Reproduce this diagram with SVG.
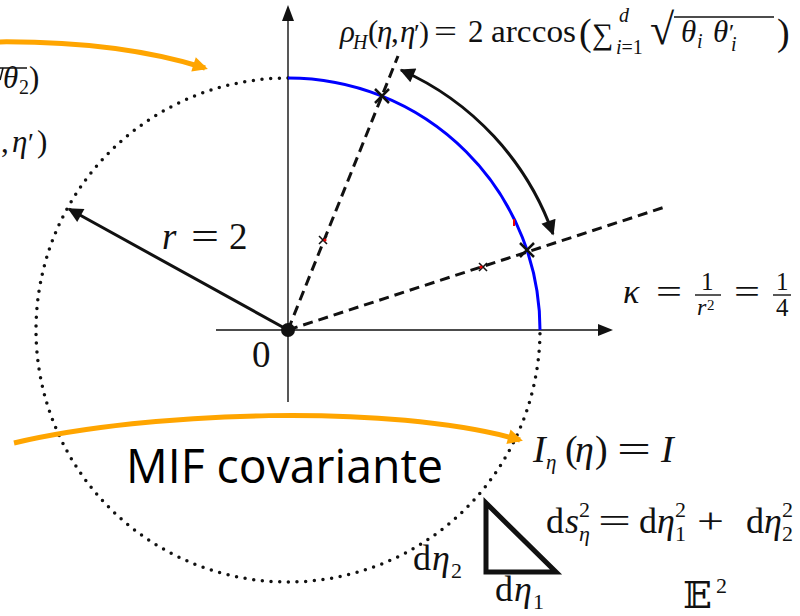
<svg xmlns="http://www.w3.org/2000/svg" width="800" height="616" viewBox="0 0 800 616">
<style>
.m{font-family:"Liberation Serif","DejaVu Serif",serif;font-size:31px;fill:#111}
.i{font-style:italic}
.s{font-size:20px}
.ax{stroke:#111;stroke-width:1.4;fill:none}
.dash{stroke:#111;stroke-width:3;stroke-dasharray:10 6;fill:none}
.xm{stroke:#111;stroke-width:2.5}
.or{stroke:#FFA500;stroke-width:5;fill:none}
</style>
<defs>
<marker id="ah" viewBox="0 0 10 10" refX="9" refY="5" markerWidth="6" markerHeight="5" orient="auto-start-reverse" markerUnits="strokeWidth"><path d="M0,0 L10,5 L0,10 z" fill="#111"/></marker>
<marker id="oh" viewBox="0 0 10 10" refX="8" refY="5" markerWidth="4.4" markerHeight="3" orient="auto" markerUnits="strokeWidth"><path d="M0,0 L10,5 L0,10 z" fill="#FFA500"/></marker>
</defs>
<rect width="800" height="616" fill="#fff"/>

<g id="connectors">
<line class="ax" x1="216" y1="330" x2="598" y2="330"/>
<path d="M598,324 L613,330 L598,336 z" fill="#111"/>
<line class="ax" x1="288" y1="402" x2="288" y2="20"/>
<path d="M282,21 L288,5 L294,21 z" fill="#111"/>
<path d="M288,78 A252,252 0 1 0 540,330" fill="none" stroke="#111" stroke-width="3.5" stroke-linecap="round" stroke-dasharray="0 8.7"/>
<path d="M288,78 A252,252 0 0 1 540,330" fill="none" stroke="#0000FF" stroke-width="3"/>
<line class="dash" x1="288" y1="330" x2="398" y2="56"/>
<line class="dash" x1="288" y1="330" x2="665" y2="207"/>
<line x1="288" y1="330" x2="69" y2="209" stroke="#111" stroke-width="3" marker-end="url(#ah)"/>
<path d="M401,70 A283,283 0 0 1 553,234" fill="none" stroke="#111" stroke-width="3" marker-start="url(#ah)" marker-end="url(#ah)"/>
<path class="or" d="M-10,42 Q115,40 205,68" marker-end="url(#oh)"/>
<path class="or" d="M14,443 C150,411 390,403 520,440" marker-end="url(#oh)"/>
</g>

<g id="origin"><circle cx="288" cy="330" r="7" fill="#111"/></g>
<g id="marks">
<path class="xm" d="M375,89 L389,103 M389,89 L375,103"/>
<path class="xm" d="M520,243 L534,257 M534,243 L520,257"/>
<path d="M319,236 L327,244 M327,236 L319,244" stroke="#111" stroke-width="1.6"/>
<circle cx="325" cy="240" r="1.6" fill="#e00"/>
<path d="M479,263 L487,271 M487,263 L479,271" stroke="#111" stroke-width="1.6"/>
<circle cx="481" cy="267" r="1.6" fill="#e00"/>
<rect x="513" y="219" width="2" height="7" fill="#e00"/>
</g>
<g id="triangle"><path d="M486,503 L486,572 L556,572 z" fill="none" stroke="#111" stroke-width="5" stroke-linejoin="miter"/></g>

<g id="rho-label" class="m">
<text><tspan x="340" y="42" class="i">ρ</tspan><tspan x="353" y="49" class="i s">H</tspan><tspan x="368" y="42">(</tspan><tspan x="377" y="42" class="i">η</tspan><tspan x="391" y="42">,</tspan><tspan x="400" y="42" class="i">η</tspan><tspan x="414" y="42" style="font-size:26px">′</tspan><tspan x="419" y="42" style="font-size:30px">)</tspan></text>
<text x="434" y="42" textLength="23" lengthAdjust="spacingAndGlyphs">=</text>
<text x="468" y="42">2</text>
<text x="491" y="42" textLength="85" lengthAdjust="spacingAndGlyphs">arccos</text>
<text><tspan x="579" y="45" style="font-size:38px">(</tspan><tspan x="592" y="44" style="font-size:30px">∑</tspan><tspan x="619" y="22" class="i s">d</tspan><tspan x="616" y="54" class="s"><tspan class="i">i</tspan>=1</tspan><tspan x="650" y="44" style="font-size:44px">√</tspan><tspan x="681" y="42" class="i">θ</tspan><tspan x="697" y="48" class="i s">i</tspan><tspan x="713" y="42" class="i">θ</tspan><tspan x="729" y="40" style="font-size:24px">′</tspan><tspan x="731" y="51" class="i s">i</tspan><tspan x="777" y="45" style="font-size:38px">)</tspan></text>
<line x1="674" y1="17" x2="774" y2="17" stroke="#111" stroke-width="1.5"/>
</g>

<g id="left-clip" class="m">
<line x1="0" y1="68" x2="27" y2="68" stroke="#111" stroke-width="1.5"/>
<line x1="0" y1="80" x2="3" y2="68" stroke="#111" stroke-width="1.5"/>
<text><tspan x="3" y="88" class="i">θ</tspan><tspan x="19" y="94" class="s">2</tspan><tspan x="29" y="88">)</tspan></text>
<text><tspan x="1" y="152">,</tspan><tspan x="12" y="152" class="i">η</tspan><tspan x="28" y="152" style="font-size:27px">′</tspan><tspan x="37" y="152">)</tspan></text>
</g>

<g id="r-label" class="m" style="font-size:37px">
<text x="162" y="249" class="i">r</text>
<text x="191" y="249" textLength="28" lengthAdjust="spacingAndGlyphs">=</text>
<text x="229" y="249">2</text>
</g>
<g id="zero-label" class="m" style="font-size:37px"><text x="252" y="367">0</text></g>

<g id="kappa-label" class="m" style="font-size:34px">
<text x="623" y="303" class="i">κ</text>
<text x="656" y="303" textLength="26" lengthAdjust="spacingAndGlyphs">=</text>
<text x="701" y="290" style="font-size:25px">1</text>
<line x1="695" y1="295" x2="721" y2="295" stroke="#111" stroke-width="1.4"/>
<text><tspan x="697" y="315" class="i" style="font-size:24px">r</tspan><tspan x="707" y="310" style="font-size:15px">2</tspan></text>
<text x="734" y="303" textLength="26" lengthAdjust="spacingAndGlyphs">=</text>
<text x="776" y="290" style="font-size:25px">1</text>
<line x1="773" y1="295" x2="791" y2="295" stroke="#111" stroke-width="1.4"/>
<text x="776" y="316" style="font-size:25px">4</text>
</g>

<g id="mif-label"><text x="126" y="483" style="font-family:'Open Sans','Liberation Sans',sans-serif;font-size:48px;fill:#000" textLength="317" lengthAdjust="spacingAndGlyphs">MIF covariante</text></g>

<g id="I-label" class="m" style="font-size:38px">
<text><tspan x="533" y="462" class="i">I</tspan><tspan x="546" y="469" class="i" style="font-size:21px">η</tspan><tspan x="565" y="462">(</tspan><tspan x="575" y="462" class="i">η</tspan><tspan x="595" y="462">)</tspan></text>
<text x="617" y="462" textLength="34" lengthAdjust="spacingAndGlyphs">=</text>
<text x="661" y="462" class="i">I</text>
</g>

<g id="ds-label" class="m" style="font-size:36px">
<text><tspan x="546" y="533">d</tspan><tspan x="565" y="533" class="i">s</tspan><tspan x="579" y="517" style="font-size:22px">2</tspan><tspan x="579" y="541" class="i" style="font-size:22px">η</tspan></text>
<text x="598" y="533" textLength="33" lengthAdjust="spacingAndGlyphs">=</text>
<text><tspan x="639" y="533">d</tspan><tspan x="657" y="533" class="i">η</tspan><tspan x="675" y="517" style="font-size:22px">2</tspan><tspan x="675" y="541" style="font-size:22px">1</tspan></text>
<text x="697" y="533" textLength="27" lengthAdjust="spacingAndGlyphs">+</text>
<text><tspan x="746" y="533">d</tspan><tspan x="764" y="533" class="i">η</tspan><tspan x="782" y="517" style="font-size:22px">2</tspan><tspan x="782" y="541" style="font-size:22px">2</tspan></text>
</g>

<g id="deta2-label" class="m" style="font-size:36px">
<text><tspan x="413" y="570">d</tspan><tspan x="432" y="570" class="i">η</tspan><tspan x="451" y="578" style="font-size:22px">2</tspan></text>
</g>
<g id="deta1-label" class="m" style="font-size:36px">
<text><tspan x="495" y="601">d</tspan><tspan x="514" y="601" class="i">η</tspan><tspan x="533" y="609" style="font-size:22px">1</tspan></text>
</g>
<g id="E2-label" class="m">
<text><tspan x="683" y="608" style="font-family:'DejaVu Serif','DejaVu Sans',serif;font-size:38px">𝔼</tspan><tspan x="716" y="593" style="font-size:22px">2</tspan></text>
</g>
</svg>
